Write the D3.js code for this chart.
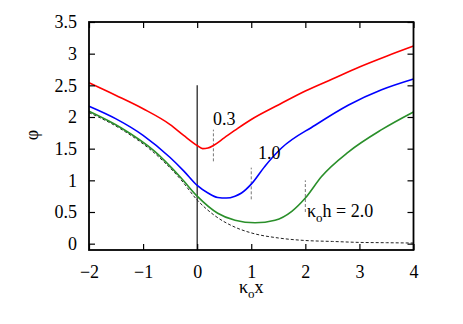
<!DOCTYPE html>
<html>
<head>
<meta charset="utf-8">
<script src="https://cdn.jsdelivr.net/npm/d3@7"></script>
<style>
  body { margin: 0; background: #fff; }
  svg text { fill: #000; }
</style>
</head>
<body>
<div id="chart"></div>
<script>
// datos (kappa_o x , phi)
const redX = [-2, -1.5, -1, -0.5, -0.25, 0, 0.1, 0.2, 0.3, 0.5, 0.75, 1, 1.5, 2, 2.5, 3, 3.5, 4];
const redPhi = [2.54, 2.34, 2.13, 1.88, 1.71, 1.55, 1.50, 1.51, 1.55, 1.67, 1.82, 1.96, 2.19, 2.41, 2.60, 2.79, 2.96, 3.12];

const blueX = [-2, -1.5, -1, -0.5, -0.25, 0, 0.2, 0.38, 0.54, 0.7, 0.82, 1, 1.25, 1.56, 2.18, 2.8, 3.41, 4];
const bluePhi = [2.17, 1.97, 1.71, 1.36, 1.15, 0.92, 0.80, 0.73, 0.72, 0.75, 0.80, 0.94, 1.22, 1.51, 1.87, 2.19, 2.43, 2.60];

const greenX = [-2, -1.41, -0.79, -0.3, 0, 0.38, 0.7, 1.07, 1.44, 1.75, 2, 2.3, 2.8, 3.41, 4];
const greenPhi = [2.09, 1.83, 1.46, 1.04, 0.75, 0.48, 0.37, 0.33, 0.37, 0.51, 0.72, 1.06, 1.45, 1.80, 2.08];

const bulkX = [-2, -1.41, -0.79, -0.3, 0, 0.33, 0.7, 1, 1.5, 2, 2.5, 3, 3.5, 4];
const bulkPhi = [2.07, 1.81, 1.43, 1.01, 0.69, 0.44, 0.26, 0.17, 0.09, 0.05, 0.035, 0.02, 0.015, 0.01];

// marcas verticales en x = kappa_o h
const markX = [0.3, 1.0, 2.0];
const markLo = [1.30, 0.70, 0.50];
const markHi = [1.80, 1.20, 1.00];

const xTicks = [-2, -1, 0, 1, 2, 3, 4];
const yTicks = [0, 0.5, 1, 1.5, 2, 2.5, 3, 3.5];

const serif = '"Liberation Serif", "Times New Roman", Times, serif';

const width = 463, height = 324;
const svg = d3.select("#chart").append("svg")
    .attr("width", width)
    .attr("height", height)
    .attr("font-family", serif);

const x = d3.scaleLinear().domain([-2, 4]).range([89, 413.5]);
const y = d3.scaleLinear().domain([-0.1, 3.5]).range([250, 22]);

const toPts = (xs, ys) => xs.map((v, i) => [v, ys[i]]);
const line = d3.line()
    .x(d => x(d[0]))
    .y(d => y(d[1]))
    .curve(d3.curveMonotoneX);

// linea vertical en x = 0
svg.append("line")
    .attr("x1", x(0)).attr("x2", x(0))
    .attr("y1", y(2.5)).attr("y2", y(-0.1))
    .style("stroke", "#000")
    .style("stroke-width", 1.1);

// curva de referencia (discontinua)
svg.append("path")
    .attr("d", line(toPts(bulkX, bulkPhi)))
    .style("fill", "none")
    .style("stroke", "#222")
    .style("stroke-width", 1)
    .style("stroke-dasharray", "3,2");

// marcas de h
markX.forEach((m, i) => {
    svg.append("line")
        .attr("x1", x(m)).attr("x2", x(m))
        .attr("y1", y(markLo[i])).attr("y2", y(markHi[i]))
        .style("stroke", "#777")
        .style("stroke-width", 1)
        .style("stroke-dasharray", "3,2");
});

const series = [
    { pts: toPts(greenX, greenPhi), color: "#2a8f2a" },
    { pts: toPts(blueX, bluePhi), color: "#0000ff" },
    { pts: toPts(redX, redPhi), color: "#ff0000" }
];
series.forEach(s => {
    svg.append("path")
        .attr("d", line(s.pts))
        .style("fill", "none")
        .style("stroke", s.color)
        .style("stroke-width", 1.6);
});

// ejes con marcas hacia dentro
const fmt = d3.format("");
const gx = svg.append("g")
    .attr("transform", `translate(0,${y(-0.1)})`)
    .call(d3.axisBottom(x).tickValues(xTicks).tickSize(-6).tickPadding(15).tickFormat(d => fmt(d)));
const gy = svg.append("g")
    .attr("transform", `translate(${x(-2)},0)`)
    .call(d3.axisLeft(y).tickValues(yTicks).tickSize(-6).tickPadding(12).tickFormat(d => fmt(d)));
const gt = svg.append("g")
    .attr("transform", `translate(0,${y(3.5)})`)
    .call(d3.axisTop(x).tickValues(xTicks).tickSize(-6).tickFormat(""));
const gr = svg.append("g")
    .attr("transform", `translate(${x(4)},0)`)
    .call(d3.axisRight(y).tickValues(yTicks).tickSize(-6).tickFormat(""));

[gx, gy, gt, gr].forEach(g => {
    g.attr("font-family", serif).attr("font-size", 18);
    g.select(".domain").remove();
    g.selectAll(".tick line").style("stroke", "#000").style("stroke-width", 1.2);
});

// marco
svg.append("rect")
    .attr("x", x(-2)).attr("y", y(3.5))
    .attr("width", x(4) - x(-2))
    .attr("height", y(-0.1) - y(3.5))
    .style("fill", "none")
    .style("stroke", "#000")
    .style("stroke-width", 1.8);

// titulos de ejes
const xt = svg.append("text")
    .attr("x", x(1)).attr("y", 293)
    .style("text-anchor", "middle")
    .style("font-size", "18px");
xt.append("tspan").text("κ");
xt.append("tspan").attr("dy", 5).style("font-size", "13px").text("o");
xt.append("tspan").attr("dy", -5).text("x");

svg.append("text")
    .attr("transform", "translate(38,135) rotate(-90)")
    .style("text-anchor", "middle")
    .style("font-size", "18px")
    .text("φ");

// etiquetas de las curvas
svg.append("text").attr("x", x(0.293)).attr("y", y(1.87)).style("font-size", "18px").text("0.3");
svg.append("text").attr("x", x(1.125)).attr("y", y(1.34)).style("font-size", "18px").text("1.0");
const hl = svg.append("text").attr("x", x(2.03)).attr("y", y(0.42)).style("font-size", "18px");
hl.append("tspan").text("κ");
hl.append("tspan").attr("dy", 5).style("font-size", "13px").text("o");
hl.append("tspan").attr("dy", -5).text("h = 2.0");
</script>
</body>
</html>
